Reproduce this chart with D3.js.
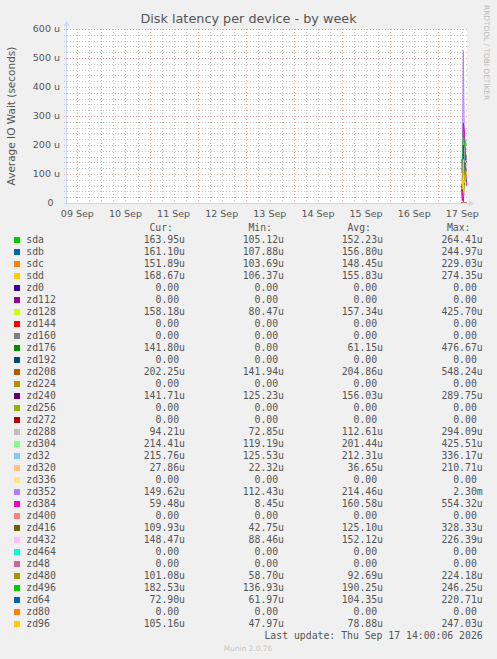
<!DOCTYPE html>
<html><head><meta charset="utf-8">
<script src="https://cdn.jsdelivr.net/npm/d3@7"></script>
<style>html,body{margin:0;padding:0;background:#F0F0F0;}svg{display:block}</style>
</head><body><svg id="c" width="497" height="659"></svg>
<script>
// ---------- data ----------
const chartTitle = "Disk latency per device - by week";
const yAxisTitle = "Average IO Wait (seconds)";
const yTickValues = [0, 100, 200, 300, 400, 500, 600];          // microseconds
const yTickLabels = ["0", "100 u", "200 u", "300 u", "400 u", "500 u", "600 u"];
const timeStart = new Date(2026, 8, 9, 6, 20);
const timeEnd = new Date(2026, 8, 17, 14, 20);
const sampleTimes = [
  new Date(2026, 8, 17, 11, 30), new Date(2026, 8, 17, 12, 0), new Date(2026, 8, 17, 12, 30),
  new Date(2026, 8, 17, 13, 0), new Date(2026, 8, 17, 13, 30), new Date(2026, 8, 17, 14, 0)
];
const devices = ["sda","sdb","sdc","sdd","zd0","zd112","zd128","zd144","zd160","zd176","zd192","zd208","zd224","zd240","zd256","zd272","zd288","zd304","zd32","zd320","zd336","zd352","zd384","zd400","zd416","zd432","zd464","zd48","zd480","zd496","zd64","zd80","zd96"];
const colors = ["#00CC00","#0066B3","#FF8000","#FFCC00","#330099","#990099","#CCFF00","#FF0000","#808080","#008F00","#00487D","#B35A00","#B38F00","#6B006B","#8FB300","#B30000","#BEBEBE","#80FF80","#80C9FF","#FFC080","#FFE680","#AA80FF","#EE00CC","#FF8080","#666600","#FFBFFF","#00FFCC","#CC6699","#999900","#00CC00","#0066B3","#FF8000","#FFCC00"];
const curVals = ["163.95u","161.10u","151.89u","168.67u","0.00","0.00","158.18u","0.00","0.00","141.80u","0.00","202.25u","0.00","141.71u","0.00","0.00","94.21u","214.41u","215.76u","27.86u","0.00","149.62u","59.48u","0.00","109.93u","148.47u","0.00","0.00","101.08u","182.53u","72.90u","0.00","105.16u"];
const minVals = ["105.12u","107.88u","103.69u","106.37u","0.00","0.00","80.47u","0.00","0.00","0.00","0.00","141.94u","0.00","125.23u","0.00","0.00","72.85u","119.19u","125.53u","22.32u","0.00","112.43u","8.45u","0.00","42.75u","88.46u","0.00","0.00","58.70u","136.93u","61.97u","0.00","47.97u"];
const avgVals = ["152.23u","156.80u","148.45u","155.83u","0.00","0.00","157.34u","0.00","0.00","61.15u","0.00","204.86u","0.00","156.03u","0.00","0.00","112.61u","201.44u","212.31u","36.65u","0.00","214.46u","160.58u","0.00","125.10u","152.12u","0.00","0.00","92.69u","190.25u","104.35u","0.00","78.88u"];
const maxVals = ["264.41u","244.97u","229.03u","274.35u","0.00","0.00","425.70u","0.00","0.00","476.67u","0.00","548.24u","0.00","289.75u","0.00","0.00","294.09u","425.51u","336.17u","210.71u","0.00","2.30m","554.32u","0.00","328.33u","226.39u","0.00","0.00","224.18u","246.25u","220.71u","0.00","247.03u"];
// samples per device, microseconds
const samples = [
  [120,105,264,150,140,163.95],
  [110,108,245,160,150,161.10],
  [104,120,229,150,140,151.89],
  [106,130,274,160,150,168.67],
  [0,0,0,0,0,0],
  [0,0,0,0,0,0],
  [80,100,260,170,150,158.18],
  [0,0,0,0,0,0],
  [0,0,0,0,0,0],
  [0,0,0,60,170,141.80],
  [0,0,0,0,0,0],
  [150,142,262,220,210,202.25],
  [0,0,0,0,0,0],
  [130,125,232,160,150,141.71],
  [0,0,0,0,0,0],
  [0,0,0,0,0,0],
  [80,73,200,110,100,94.21],
  [130,119,250,210,200,214.41],
  [140,126,270,220,210,215.76],
  [25,22,80,35,30,27.86],
  [0,0,0,0,0,0],
  [120,112,525,200,170,149.62],
  [60,8.45,276,250,180,59.48],
  [0,0,0,0,0,0],
  [50,42.75,200,130,120,109.93],
  [90,88.46,226,150,140,148.47],
  [0,0,0,0,0,0],
  [0,0,0,0,0,0],
  [60,58.7,180,90,95,101.08],
  [140,137,246,200,190,182.53],
  [65,62,200,110,100,72.90],
  [0,0,0,0,0,0],
  [50,48,150,70,80,105.16]
];
const legendHeaders = ["Cur:", "Min:", "Avg:", "Max:"];
const lastUpdate = "Last update: Thu Sep 17 14:00:06 2026";
const vendorText = "RRDTOOL / TOBI OETIKER";
const footerText = "Munin 2.0.76";

// ---------- drawing ----------
const svg = d3.select("#c");
const W = 497, H = 659;
const plot = {left: 66, right: 467, top: 29, bottom: 203};
const sans = "'DejaVu Sans', sans-serif", mono = "'DejaVu Sans Mono', monospace";
const fontCol = "#555555";

svg.append("rect").attr("width", W).attr("height", H).attr("fill", "#F0F0F0");
svg.append("rect").attr("x", plot.left).attr("y", plot.top)
  .attr("width", plot.right - plot.left).attr("height", plot.bottom - plot.top).attr("fill", "#FFFFFF");

const x = d3.scaleTime().domain([timeStart, timeEnd]).range([plot.left, plot.right]);
const y = d3.scaleLinear().domain([0, 600]).range([plot.bottom, plot.top]);

const grid = svg.append("g").attr("shape-rendering", "crispEdges");
const minorCol = "#C4C4C4", majorCol = "#EBA5A5";
const dash = "1,2";
// minor horizontal
d3.range(20, 600, 20).filter(v => v % 100 !== 0).forEach(v => {
  grid.append("line").attr("x1", plot.left - 2).attr("x2", plot.right + 2)
    .attr("y1", Math.round(y(v)) + 0.5).attr("y2", Math.round(y(v)) + 0.5)
    .attr("stroke", minorCol).attr("stroke-dasharray", dash);
});
// minor vertical every 6 h
d3.timeHour.every(6).range(timeStart, timeEnd).filter(d => d.getHours() !== 0).forEach(d => {
  const xx = Math.round(x(d)) + 0.5;
  grid.append("line").attr("x1", xx).attr("x2", xx).attr("y1", plot.top).attr("y2", plot.bottom + 2)
    .attr("stroke", minorCol).attr("stroke-dasharray", dash);
});
// major horizontal
yTickValues.filter(v => v > 0).forEach(v => {
  grid.append("line").attr("x1", plot.left - 2).attr("x2", plot.right + 2)
    .attr("y1", Math.round(y(v)) + 0.5).attr("y2", Math.round(y(v)) + 0.5)
    .attr("stroke", majorCol).attr("stroke-dasharray", dash);
});
// major vertical at midnight
d3.timeDay.range(d3.timeDay.ceil(timeStart), timeEnd).forEach(d => {
  const xx = Math.round(x(d)) + 0.5;
  grid.append("line").attr("x1", xx).attr("x2", xx).attr("y1", plot.top).attr("y2", plot.bottom + 2)
    .attr("stroke", majorCol).attr("stroke-dasharray", dash);
});

// y tick labels
yTickValues.forEach((v, i) => {
  svg.append("text").attr("x", v === 0 ? 53.5 : 60).attr("y", y(v)).attr("dy", "0.35em")
    .attr("text-anchor", "end").attr("font-family", sans).attr("font-size", 9.5)
    .attr("fill", fontCol).text(yTickLabels[i]);
});
// x tick labels at noon
d3.timeDay.range(d3.timeDay.floor(timeStart), timeEnd).forEach(d => {
  const noon = d3.timeHour.offset(d, 12);
  svg.append("text").attr("x", x(noon)).attr("y", 216.5)
    .attr("text-anchor", "middle").attr("font-family", sans).attr("font-size", 9.5)
    .attr("fill", fontCol).text(d3.timeFormat("%d %b")(noon));
});

// data lines
const line = d3.line().x((v, i) => x(sampleTimes[i])).y(v => y(v));
samples.forEach((s, i) => {
  svg.append("path").attr("d", line(s)).attr("fill", "none")
    .attr("stroke", colors[i]).attr("stroke-width", 1);
});

// axes
const axisCol = "#CFD6F8";
svg.append("line").attr("x1", plot.left - 2).attr("x2", plot.right + 3)
  .attr("y1", plot.bottom + 0.5).attr("y2", plot.bottom + 0.5).attr("stroke", axisCol).attr("shape-rendering", "crispEdges");
svg.append("line").attr("x1", plot.left + 0.5).attr("x2", plot.left + 0.5)
  .attr("y1", plot.bottom + 2).attr("y2", plot.top - 4).attr("stroke", axisCol).attr("shape-rendering", "crispEdges");
svg.append("path").attr("d", `M${plot.right + 2},${plot.bottom - 2.5}L${plot.right + 7},${plot.bottom + 0.5}L${plot.right + 2},${plot.bottom + 3.5}Z`).attr("fill", axisCol);
svg.append("path").attr("d", `M${plot.left - 2.5},${plot.top - 3}L${plot.left + 0.5},${plot.top - 8}L${plot.left + 3.5},${plot.top - 3}Z`).attr("fill", axisCol);

// titles
svg.append("text").attr("x", 248.5).attr("y", 23).attr("text-anchor", "middle")
  .attr("font-family", sans).attr("font-size", 12.8).attr("fill", fontCol).text(chartTitle);
svg.append("text").attr("transform", `translate(14.5,${(plot.top + plot.bottom) / 2}) rotate(-90)`)
  .attr("text-anchor", "middle").attr("font-family", sans).attr("font-size", 10.5)
  .attr("fill", fontCol).text(yAxisTitle);
svg.append("text").attr("transform", `translate(484,5) rotate(90)`)
  .attr("text-anchor", "start").attr("font-family", sans).attr("font-size", 7.4)
  .attr("fill", "#BBBBBB").text(vendorText);

// legend
const cw = 5.9, fs = 9.8;
const colX = [185, 284, 383, 482.7];
const headerX = [173, 272, 371, 470.5];
legendHeaders.forEach((h, i) => {
  svg.append("text").attr("x", headerX[i]).attr("y", 227.5).attr("dy", "0.35em").attr("text-anchor", "end")
    .attr("font-family", mono).attr("font-size", fs).attr("fill", fontCol).text(h);
});
const cols = [curVals, minVals, avgVals, maxVals];
devices.forEach((name, i) => {
  const yc = 239.7 + 12 * i;
  svg.append("rect").attr("x", 14).attr("y", Math.round(yc - 3)).attr("width", 6).attr("height", 6).attr("fill", colors[i]);
  svg.append("text").attr("x", 26.3).attr("y", yc).attr("dy", "0.35em")
    .attr("font-family", mono).attr("font-size", fs).attr("fill", fontCol).text(name);
  cols.forEach((arr, j) => {
    const s = arr[i];
    const hasUnit = /[a-z]$/.test(s);
    svg.append("text").attr("x", hasUnit ? colX[j] : colX[j] - cw).attr("y", yc).attr("dy", "0.35em")
      .attr("text-anchor", "end").attr("font-family", mono).attr("font-size", fs).attr("fill", fontCol).text(s);
  });
});
svg.append("text").attr("x", 482.7).attr("y", 635.3).attr("dy", "0.35em").attr("text-anchor", "end")
  .attr("font-family", mono).attr("font-size", fs).attr("fill", fontCol).text(lastUpdate);
svg.append("text").attr("x", 248).attr("y", 648.3).attr("dy", "0.35em").attr("text-anchor", "middle")
  .attr("font-family", sans).attr("font-size", 7.4).attr("fill", "#C8C8C8").text(footerText);
</script></body></html>
